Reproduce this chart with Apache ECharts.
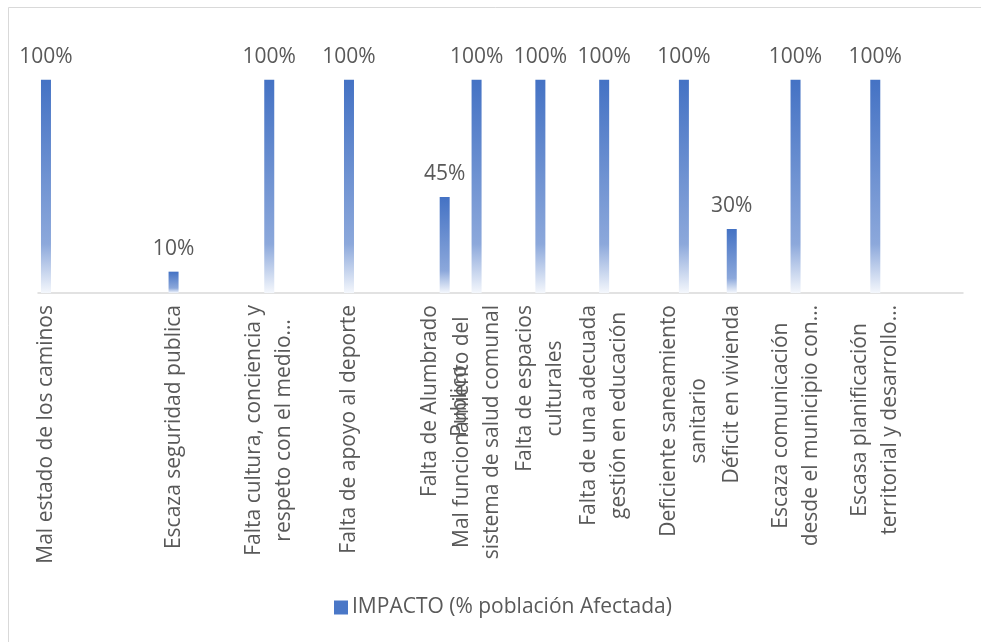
<!DOCTYPE html>
<html>
<head>
<meta charset="utf-8">
<script src="https://cdn.jsdelivr.net/npm/echarts@6/dist/echarts.min.js"></script>
<style>
  html, body { margin: 0; padding: 0; background: #ffffff; }
  #chart { width: 981px; height: 642px; }
</style>
</head>
<body>
<div id="chart"></div>
<script>
// Worksheet rows (blank rows kept as empty entries so the axis keeps their slots)
const categories = [
  'Mal estado de los caminos', '', '', '', '', '', '', '',
  'Escaza seguridad publica', '', '', '', '', '',
  'Falta cultura, conciencia y\nrespeto con el medio…', '', '', '', '',
  'Falta de apoyo al deporte', '', '', '', '', '',
  'Falta de Alumbrado\nPublico', '',
  'Mal funcionamiento del\nsistema de salud comunal', '', '', '',
  'Falta de espacios\nculturales', '', '', '',
  'Falta de una adecuada\ngestión en educación', '', '', '', '',
  'Deficiente saneamiento\nsanitario', '', '',
  'Déficit en vivienda', '', '', '',
  'Escaza comunicación\ndesde el municipio con…', '', '', '', '',
  'Escasa planificación\nterritorial y desarrollo…', '', '', '', '', ''
];

// IMPACTO (% población Afectada), one value per row
const impacto = [
  100, null, null, null, null, null, null, null,
  10, null, null, null, null, null,
  100, null, null, null, null,
  100, null, null, null, null, null,
  45, null,
  100, null, null, null,
  100, null, null, null,
  100, null, null, null, null,
  100, null, null,
  30, null, null, null,
  100, null, null, null, null,
  100, null, null, null, null, null
];

const seriesName = 'IMPACTO (% población Afectada)';

const FONT = '"Open Sans", "Noto Sans", sans-serif';
const TEXT = '#595959';

const gradientStops = [
  { offset: 0, color: '#4472C4' },
  { offset: 0.77, color: '#8CA8DB' },
  { offset: 1, color: '#F4F7FC' }
];
const barFill = new echarts.graphic.LinearGradient(0, 0, 0, 1, gradientStops);

const chart = echarts.init(document.getElementById('chart'), null, { renderer: 'canvas' });

chart.setOption({
  animation: false,
  backgroundColor: '#ffffff',
  textStyle: { fontFamily: FONT },
  graphic: [{
    type: 'rect',
    silent: true,
    shape: { x: 8.5, y: 7.5, width: 1100, height: 1100 },
    style: { fill: 'none', stroke: '#d9d9d9', lineWidth: 1 }
  }],
  grid: { left: 38, right: 18, top: 37, bottom: 349, containLabel: false },
  legend: {
    left: 334,
    top: 597,
    padding: 0,
    itemWidth: 14,
    itemHeight: 14,
    itemGap: 6,
    icon: 'rect',
    itemStyle: { color: '#4A77C7', borderWidth: 0 },
    textStyle: { color: TEXT, fontSize: 21, fontFamily: FONT, padding: [0, 0, 0, -1] },
    data: [seriesName]
  },
  xAxis: {
    type: 'category',
    data: categories,
    axisLine: { lineStyle: { color: '#d9d9d9', width: 1.5 } },
    axisTick: { show: false },
    axisLabel: {
      interval: 0,
      rotate: 90,
      margin: 12,
      hideOverlap: false,
      formatter: v => (v ? '{c|' + v + '}' : ''),
      rich: {
        c: { align: 'center', fontSize: 21, lineHeight: 30, color: TEXT, fontFamily: FONT }
      }
    }
  },
  yAxis: {
    type: 'value',
    min: 0,
    max: 120,
    show: false,
    splitLine: { show: false }
  },
  series: [{
    name: seriesName,
    type: 'bar',
    data: impacto,
    barWidth: 10,
    itemStyle: { color: barFill, borderWidth: 0 },
    label: {
      show: true,
      position: 'top',
      distance: 12,
      color: TEXT,
      fontSize: 21,
      fontFamily: FONT,
      formatter: p => p.value + '%'
    }
  }]
});
</script>
</body>
</html>
